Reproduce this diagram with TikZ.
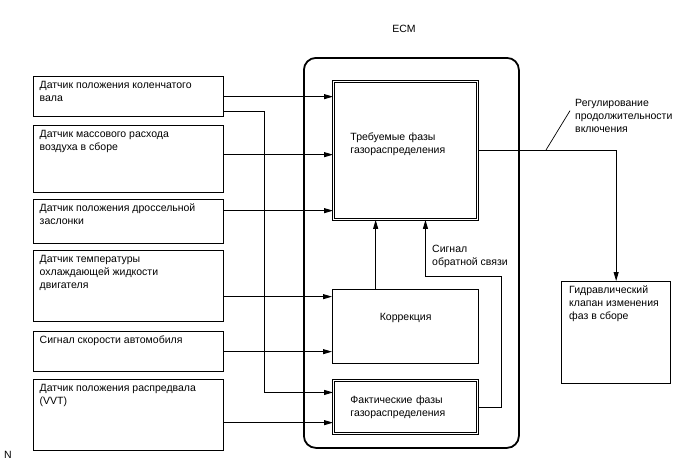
\documentclass[tikz,border=0pt]{standalone}
\usepackage{fontspec}
\setmainfont{Liberation Sans}
\usetikzlibrary{arrows.meta,positioning}

\begin{document}
\begin{tikzpicture}[x=1pt,y=-1pt,
  every node/.style={font=\fontsize{10.5}{12.8}\selectfont},
  sensor/.style={draw,line width=1.3pt,anchor=north west,minimum width=190,inner sep=0pt},
  intext/.style={anchor=north west,align=left,inner xsep=6.5pt,inner ysep=5pt},
  ecmbox/.style={draw,line width=1.8pt,rounded corners=12pt,anchor=north west,
                 minimum width=215,minimum height=390},
  dblbox/.style={draw,line width=0.9pt,double,double distance=1.6pt,anchor=north west,
                 minimum width=144,align=left,text width=110,inner xsep=17pt},
  blk/.style={draw,line width=1.3pt,anchor=north west,inner sep=0pt},
  freetext/.style={anchor=north west,align=left,inner sep=0pt},
  arr/.style={-{Triangle[length=9pt,width=5pt]},line width=0.9pt}]
\useasboundingbox (0,0) rectangle (688,463);

% ECM
\node (ecmlbl) at (404,29) {ECM};
\node[ecmbox] (ecm) at (303,57) {};
\node[dblbox,minimum height=138,text depth=28pt] (target) at (333,81)
  {Требуемые фазы\\газораспределения};
\node[blk,minimum width=146,minimum height=74,text depth=20pt] (corr) at (332,289) {Коррекция};
\node[dblbox,minimum height=53] (actual) at (333,380)
  {Фактические фазы\\газораспределения};

% sensors
\node[sensor,minimum height=40,label={[intext]north west:Датчик положения коленчатого\\вала}] (crank) at (33,76) {};
\node[sensor,minimum height=67,label={[intext]north west:Датчик массового расхода\\воздуха в сборе}] (maf) at (33,125) {};
\node[sensor,minimum height=44,label={[intext]north west:Датчик положения дроссельной\\заслонки}] (tps) at (33,199) {};
\node[sensor,minimum height=71,label={[intext]north west:Датчик температуры\\охлаждающей жидкости\\двигателя}] (ect) at (33,250) {};
\node[sensor,minimum height=40,label={[intext]north west:Сигнал скорости автомобиля}] (spd) at (33,331) {};
\node[sensor,minimum height=71,label={[intext]north west:Датчик положения распредвала\\(VVT)}] (vvt) at (33,379) {};

% actuator
\node[blk,minimum width=109,minimum height=102,label={[intext,inner xsep=8pt]north west:Гидравлический\\клапан изменения\\фаз в сборе}] (ocv) at (561,281) {};

\node[freetext] (fblbl) at (432,245) {Сигнал\\обратной связи};
\node[freetext] (dutylbl) at (575,99) {Регулирование\\продолжительности\\включения};
\node (nmark) at (8,455) {N};

% inputs
\draw[arr] (crank.east) coordinate (a1) -- (a1 -| target.west);
\draw[arr] ([yshift=-15pt]crank.east) -- ++(40,0) |- ([yshift=14.5pt]actual.west);
\draw[arr] ([yshift=4.5pt]maf.east) coordinate (a2) -- (a2 -| target.west);
\draw[arr] ([yshift=11pt]tps.east) coordinate (a3) -- (a3 -| target.west);
\draw[arr] ([yshift=-10.5pt]ect.east) coordinate (a4) -- (a4 -| corr.west);
\draw[arr] (spd.east) coordinate (a5) -- (a5 -| corr.west);
\draw[arr] ([yshift=-7.5pt]vvt.east) coordinate (a6) -- (a6 -| actual.west);

% inside ECM
\draw[arr] ([xshift=-30pt]corr.north) coordinate (c1) -- (c1 |- target.south);
\draw[arr] (actual.east) -- ++(24,0) -- ++(0,-131) -| ([xshift=20pt]target.south);

% output
\draw[arr] (target.east) -| (ocv.north);
\coordinate (tap) at (546,150);
\draw[line width=0.7pt] (tap) -- ([xshift=-5pt,yshift=5pt]dutylbl.west);
\end{tikzpicture}
\end{document}
